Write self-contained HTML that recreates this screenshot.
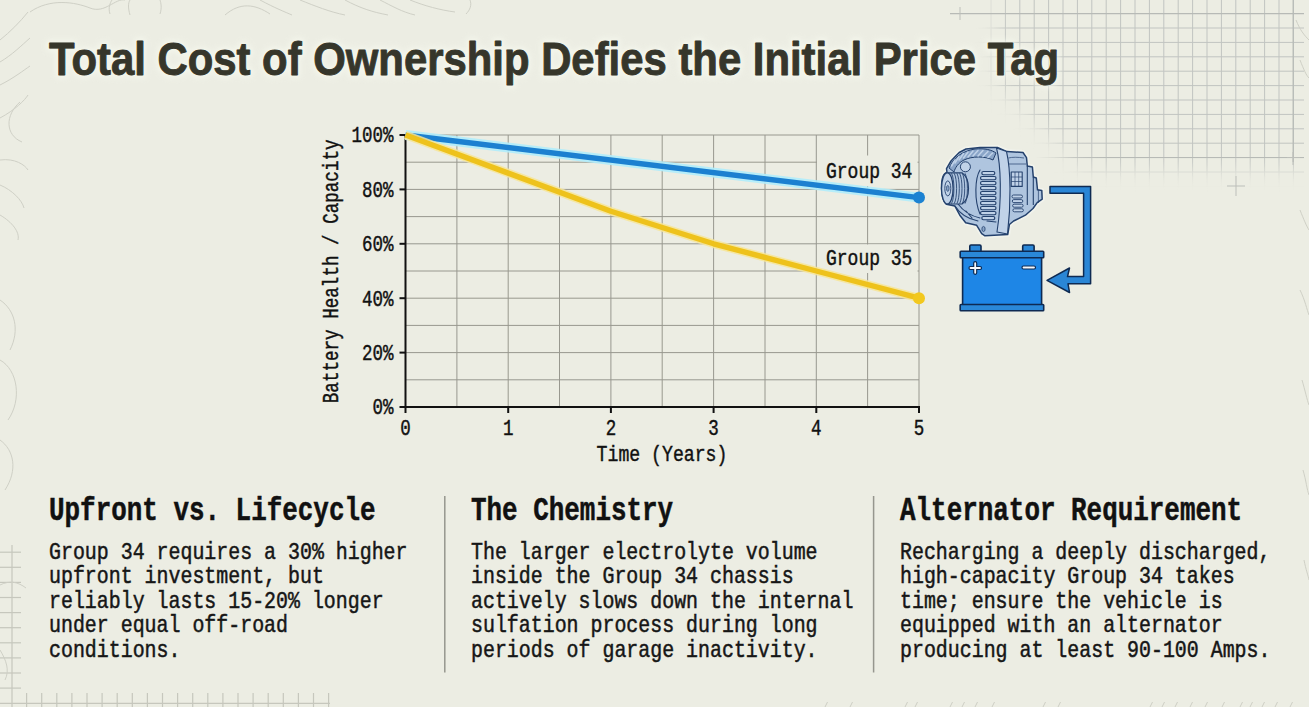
<!DOCTYPE html><html><head><meta charset="utf-8"><style>
html,body{margin:0;padding:0;background:#ecede3;}body{width:1309px;height:707px;overflow:hidden;position:relative;}svg{position:absolute;left:0;top:0;display:block;}.m{font-family:"Liberation Mono",monospace;}.s{font-family:"Liberation Sans",sans-serif;}
</style></head><body>
<svg width="1309" height="707" viewBox="0 0 1309 707">
<rect x="0" y="0" width="1309" height="707" fill="#ecede3"/>
<defs><filter id="gb" x="-20%" y="-20%" width="140%" height="140%"><feGaussianBlur stdDeviation="9"/></filter><linearGradient id="hf" gradientUnits="userSpaceOnUse" x1="1035" y1="0" x2="1110" y2="0"><stop offset="0" stop-color="#b7bab6" stop-opacity="0"/><stop offset="1" stop-color="#b7bab6" stop-opacity="1"/></linearGradient><mask id="gm" maskUnits="userSpaceOnUse" x="900" y="-50" width="450" height="300"><path d="M995,-30 L1340,-30 L1340,170 L1085,170 L995,84 Z" fill="#fff" filter="url(#gb)"/></mask></defs>
<g mask="url(#gm)" stroke="#c1c4c1" stroke-width="1" fill="none">
<line x1="991.0" y1="0" x2="991.0" y2="200"/>
<line x1="1005.4" y1="0" x2="1005.4" y2="200"/>
<line x1="1019.8" y1="0" x2="1019.8" y2="200"/>
<line x1="1034.2" y1="0" x2="1034.2" y2="200"/>
<line x1="1048.6" y1="0" x2="1048.6" y2="200"/>
<line x1="1063.0" y1="0" x2="1063.0" y2="200"/>
<line x1="1077.4" y1="0" x2="1077.4" y2="200"/>
<line x1="1091.8" y1="0" x2="1091.8" y2="200"/>
<line x1="1106.2" y1="0" x2="1106.2" y2="200"/>
<line x1="1120.6" y1="0" x2="1120.6" y2="200"/>
<line x1="1135.0" y1="0" x2="1135.0" y2="200"/>
<line x1="1149.4" y1="0" x2="1149.4" y2="200"/>
<line x1="1163.8" y1="0" x2="1163.8" y2="200"/>
<line x1="1178.2" y1="0" x2="1178.2" y2="200"/>
<line x1="1192.6" y1="0" x2="1192.6" y2="200"/>
<line x1="1207.0" y1="0" x2="1207.0" y2="200"/>
<line x1="1221.4" y1="0" x2="1221.4" y2="200"/>
<line x1="1235.8" y1="0" x2="1235.8" y2="200"/>
<line x1="1250.2" y1="0" x2="1250.2" y2="200"/>
<line x1="1264.6" y1="0" x2="1264.6" y2="200"/>
<line x1="1279.0" y1="0" x2="1279.0" y2="200"/>
<line x1="1293.4" y1="0" x2="1293.4" y2="200"/>
<line x1="975" y1="28.0" x2="1304" y2="28.0"/>
<line x1="975" y1="42.4" x2="1304" y2="42.4"/>
<line x1="975" y1="56.8" x2="1304" y2="56.8"/>
<line x1="975" y1="71.2" x2="1304" y2="71.2"/>
<line x1="975" y1="85.6" x2="1304" y2="85.6"/>
<line x1="975" y1="100.0" x2="1304" y2="100.0"/>
<line x1="975" y1="114.4" x2="1304" y2="114.4"/>
<line x1="975" y1="128.8" x2="1304" y2="128.8"/>
<line x1="975" y1="143.2" x2="1304" y2="143.2"/>
<line x1="975" y1="157.6" x2="1304" y2="157.6"/>
<line x1="975" y1="172.0" x2="1304" y2="172.0"/>
<line x1="975" y1="186.4" x2="1304" y2="186.4"/>
</g>
<g stroke="#b7bab6" stroke-width="1.2" fill="none">
<line x1="950" y1="13.6" x2="1304" y2="13.6"/>
<line x1="1035" y1="157.5" x2="1304" y2="157.5" stroke="url(#hf)"/>
<line x1="1293.2" y1="0" x2="1293.2" y2="162"/>
</g>
<g stroke="#bdbfba" stroke-width="1" fill="none">
<line x1="960" y1="7" x2="960" y2="20"/>
<line x1="1236" y1="176" x2="1236" y2="196"/><line x1="1227" y1="186" x2="1245" y2="186"/>
<line x1="1293" y1="152" x2="1293" y2="165"/><line x1="1287" y1="157.5" x2="1300" y2="157.5"/>
</g>
<g stroke="#c6c7bd" stroke-width="1.2" fill="none">
<line x1="12" y1="545" x2="12" y2="707"/>
<line x1="0" y1="552.2" x2="21" y2="552.2"/>
<line x1="0" y1="567.3" x2="21" y2="567.3"/>
<line x1="0" y1="582.4" x2="21" y2="582.4"/>
<line x1="0" y1="597.5" x2="21" y2="597.5"/>
<line x1="0" y1="612.6" x2="21" y2="612.6"/>
<line x1="0" y1="627.7" x2="21" y2="627.7"/>
<line x1="0" y1="642.8" x2="21" y2="642.8"/>
<line x1="0" y1="657.9" x2="21" y2="657.9"/>
<line x1="0" y1="673.0" x2="21" y2="673.0"/>
<line x1="0" y1="688.1" x2="21" y2="688.1"/>
<line x1="0" y1="703.4" x2="330" y2="703.4"/>
<line x1="26.6" y1="693" x2="26.6" y2="707"/>
<line x1="41.7" y1="693" x2="41.7" y2="707"/>
<line x1="56.8" y1="693" x2="56.8" y2="707"/>
<line x1="71.9" y1="693" x2="71.9" y2="707"/>
<line x1="87.0" y1="693" x2="87.0" y2="707"/>
<line x1="102.1" y1="693" x2="102.1" y2="707"/>
<line x1="117.2" y1="693" x2="117.2" y2="707"/>
<line x1="132.3" y1="693" x2="132.3" y2="707"/>
<line x1="147.4" y1="693" x2="147.4" y2="707"/>
<line x1="162.5" y1="693" x2="162.5" y2="707"/>
<line x1="177.6" y1="693" x2="177.6" y2="707"/>
<line x1="192.7" y1="693" x2="192.7" y2="707"/>
<line x1="207.8" y1="693" x2="207.8" y2="707"/>
<line x1="222.9" y1="693" x2="222.9" y2="707"/>
<line x1="238.0" y1="693" x2="238.0" y2="707"/>
<line x1="253.1" y1="693" x2="253.1" y2="707"/>
<line x1="268.2" y1="693" x2="268.2" y2="707"/>
<line x1="283.3" y1="693" x2="283.3" y2="707"/>
<line x1="298.4" y1="693" x2="298.4" y2="707"/>
<line x1="313.5" y1="693" x2="313.5" y2="707"/>
<line x1="328.6" y1="693" x2="328.6" y2="707"/>
</g>
<g stroke="#cdcec4" stroke-width="1" fill="none">
<line x1="825" y1="707" x2="827.5" y2="702"/>
<line x1="850" y1="707" x2="852.5" y2="702"/>
<line x1="905" y1="707" x2="907.5" y2="702"/>
<line x1="915" y1="707" x2="917.5" y2="702"/>
<line x1="950" y1="707" x2="952.5" y2="702"/>
<line x1="962" y1="707" x2="964.5" y2="702"/>
<line x1="975" y1="707" x2="977.5" y2="702"/>
<line x1="992" y1="707" x2="994.5" y2="702"/>
<line x1="1043" y1="707" x2="1045.5" y2="702"/>
<line x1="1058" y1="707" x2="1060.5" y2="702"/>
<line x1="1150" y1="707" x2="1152.5" y2="702"/>
<line x1="1162" y1="707" x2="1164.5" y2="702"/>
<line x1="1175" y1="707" x2="1177.5" y2="702"/>
<line x1="1190" y1="707" x2="1192.5" y2="702"/>
<line x1="1205" y1="707" x2="1207.5" y2="702"/>
<line x1="1222" y1="707" x2="1224.5" y2="702"/>
<line x1="1240" y1="707" x2="1242.5" y2="702"/>
<line x1="1250" y1="707" x2="1252.5" y2="702"/>
<line x1="1262" y1="707" x2="1264.5" y2="702"/>
<line x1="1275" y1="707" x2="1277.5" y2="702"/>
<line x1="1290" y1="707" x2="1292.5" y2="702"/>
</g>
<g stroke="#cfd0c6" stroke-width="1" fill="none">
<path d="M0,40 C10,32 20,22 28,12"/>
<path d="M0,62 C12,55 22,45 30,38"/>
<path d="M0,85 C14,78 24,70 30,66"/>
<path d="M0,118 C15,110 25,100 28,95"/>
<path d="M20,102 C5,115 5,135 22,142"/>
<path d="M0,160 C15,158 25,165 28,170"/>
<path d="M0,185 C12,190 22,200 24,208"/>
<path d="M0,215 C12,222 20,232 18,240"/>
<path d="M0,300 C15,310 20,330 10,350"/>
<path d="M0,360 C18,370 22,400 8,420"/>
<path d="M0,440 C14,450 18,470 5,490"/>
<path d="M0,585 C10,580 18,582 26,588"/>
<path d="M0,650 C6,660 10,670 5,680"/>
<path d="M30,12 C50,-2 75,2 90,8 C105,14 115,-2 125,0"/>
<path d="M110,14 C108,8 110,3 112,0"/>
<path d="M130,15 C128,8 128,3 130,0"/>
<path d="M160,14 C162,8 161,3 160,0"/>
<path d="M225,15 C240,2 255,4 270,14"/>
<path d="M260,0 C275,8 285,12 292,15"/>
<path d="M300,0 C315,6 330,12 345,15"/>
<path d="M345,0 C360,8 372,12 388,15"/>
<path d="M380,0 C392,6 402,12 415,15"/>
<path d="M410,0 C425,6 440,10 455,12"/>
<path d="M470,0 C472,5 470,10 466,14"/>
<path d="M1296,20 C1300,30 1304,35 1309,40"/>
<path d="M1300,60 C1304,70 1306,75 1309,78"/>
<path d="M1300,210 C1304,220 1306,225 1309,230"/>
<path d="M1300,290 C1305,300 1307,310 1309,315"/>
<path d="M1302,380 C1305,390 1307,400 1309,405"/>
<path d="M1303,470 C1306,480 1307,490 1309,495"/>
<path d="M1304,560 C1306,570 1308,575 1309,580"/>
</g>
<defs><filter id="halo" x="-5%" y="-50%" width="110%" height="200%"><feGaussianBlur stdDeviation="2.5"/></filter></defs>
<text class="s" x="49" y="75" font-size="45.6" font-weight="bold" fill="#f7f9ef" stroke="#f7f9ef" stroke-width="7" stroke-linejoin="round" textLength="1010" lengthAdjust="spacingAndGlyphs" filter="url(#halo)" opacity="0.65">Total Cost of Ownership Defies the Initial Price Tag</text>
<text class="s" x="49" y="75" font-size="45.6" font-weight="bold" fill="#36362b" stroke="#36362b" stroke-width="0.9" stroke-linejoin="round" textLength="1010" lengthAdjust="spacingAndGlyphs">Total Cost of Ownership Defies the Initial Price Tag</text>
<g stroke="#98988f" stroke-width="1" fill="none">
<line x1="456.9" y1="135.0" x2="456.9" y2="407.0"/>
<line x1="508.2" y1="135.0" x2="508.2" y2="407.0"/>
<line x1="559.5" y1="135.0" x2="559.5" y2="407.0"/>
<line x1="610.9" y1="135.0" x2="610.9" y2="407.0"/>
<line x1="662.2" y1="135.0" x2="662.2" y2="407.0"/>
<line x1="713.6" y1="135.0" x2="713.6" y2="407.0"/>
<line x1="765.0" y1="135.0" x2="765.0" y2="407.0"/>
<line x1="816.3" y1="135.0" x2="816.3" y2="407.0"/>
<line x1="867.6" y1="135.0" x2="867.6" y2="407.0"/>
<line x1="919.0" y1="135.0" x2="919.0" y2="407.0"/>
<line x1="405.5" y1="379.8" x2="919.0" y2="379.8"/>
<line x1="405.5" y1="352.6" x2="919.0" y2="352.6"/>
<line x1="405.5" y1="325.4" x2="919.0" y2="325.4"/>
<line x1="405.5" y1="298.2" x2="919.0" y2="298.2"/>
<line x1="405.5" y1="271.0" x2="919.0" y2="271.0"/>
<line x1="405.5" y1="243.8" x2="919.0" y2="243.8"/>
<line x1="405.5" y1="216.6" x2="919.0" y2="216.6"/>
<line x1="405.5" y1="189.4" x2="919.0" y2="189.4"/>
<line x1="405.5" y1="162.2" x2="919.0" y2="162.2"/>
<line x1="405.5" y1="135.0" x2="919.0" y2="135.0"/>
</g>
<rect x="817" y="155.5" width="100.5" height="30.5" fill="#ecede3"/>
<rect x="817" y="244.5" width="100.5" height="28.5" fill="#ecede3"/>
<g stroke="#111" stroke-width="2" fill="none">
<line x1="405.5" y1="134.0" x2="405.5" y2="408.0"/>
<line x1="404.5" y1="407.0" x2="920.0" y2="407.0"/>
<line x1="399.5" y1="407.0" x2="405.5" y2="407.0"/>
<line x1="405.5" y1="407.0" x2="405.5" y2="413.0"/>
<line x1="399.5" y1="352.6" x2="405.5" y2="352.6"/>
<line x1="508.2" y1="407.0" x2="508.2" y2="413.0"/>
<line x1="399.5" y1="298.2" x2="405.5" y2="298.2"/>
<line x1="610.9" y1="407.0" x2="610.9" y2="413.0"/>
<line x1="399.5" y1="243.8" x2="405.5" y2="243.8"/>
<line x1="713.6" y1="407.0" x2="713.6" y2="413.0"/>
<line x1="399.5" y1="189.4" x2="405.5" y2="189.4"/>
<line x1="816.3" y1="407.0" x2="816.3" y2="413.0"/>
<line x1="399.5" y1="135.0" x2="405.5" y2="135.0"/>
<line x1="919.0" y1="407.0" x2="919.0" y2="413.0"/>
</g>
<g class="m">
<text x="372.50" y="414.30" font-size="22.5" font-weight="normal" fill="#111" textLength="21.00" lengthAdjust="spacingAndGlyphs" stroke="#111" stroke-width="0.45" >0%</text>
<text x="362.00" y="359.90" font-size="22.5" font-weight="normal" fill="#111" textLength="31.50" lengthAdjust="spacingAndGlyphs" stroke="#111" stroke-width="0.45" >20%</text>
<text x="362.00" y="305.50" font-size="22.5" font-weight="normal" fill="#111" textLength="31.50" lengthAdjust="spacingAndGlyphs" stroke="#111" stroke-width="0.45" >40%</text>
<text x="362.00" y="251.10" font-size="22.5" font-weight="normal" fill="#111" textLength="31.50" lengthAdjust="spacingAndGlyphs" stroke="#111" stroke-width="0.45" >60%</text>
<text x="362.00" y="196.70" font-size="22.5" font-weight="normal" fill="#111" textLength="31.50" lengthAdjust="spacingAndGlyphs" stroke="#111" stroke-width="0.45" >80%</text>
<text x="351.50" y="142.30" font-size="22.5" font-weight="normal" fill="#111" textLength="42.00" lengthAdjust="spacingAndGlyphs" stroke="#111" stroke-width="0.45" >100%</text>
<text x="400.25" y="435.30" font-size="22.5" font-weight="normal" fill="#111" textLength="10.50" lengthAdjust="spacingAndGlyphs" stroke="#111" stroke-width="0.45" >0</text>
<text x="502.95" y="435.30" font-size="22.5" font-weight="normal" fill="#111" textLength="10.50" lengthAdjust="spacingAndGlyphs" stroke="#111" stroke-width="0.45" >1</text>
<text x="605.65" y="435.30" font-size="22.5" font-weight="normal" fill="#111" textLength="10.50" lengthAdjust="spacingAndGlyphs" stroke="#111" stroke-width="0.45" >2</text>
<text x="708.35" y="435.30" font-size="22.5" font-weight="normal" fill="#111" textLength="10.50" lengthAdjust="spacingAndGlyphs" stroke="#111" stroke-width="0.45" >3</text>
<text x="811.05" y="435.30" font-size="22.5" font-weight="normal" fill="#111" textLength="10.50" lengthAdjust="spacingAndGlyphs" stroke="#111" stroke-width="0.45" >4</text>
<text x="913.75" y="435.30" font-size="22.5" font-weight="normal" fill="#111" textLength="10.50" lengthAdjust="spacingAndGlyphs" stroke="#111" stroke-width="0.45" >5</text>
<text x="596.60" y="461.20" font-size="22.5" font-weight="normal" fill="#111" textLength="130.80" lengthAdjust="spacingAndGlyphs" stroke="#111" stroke-width="0.45" >Time (Years)</text>
<g transform="translate(338.0,271.3) rotate(-90)">
<text x="-131.88" y="0.00" font-size="22.3" font-weight="normal" fill="#111" textLength="263.75" lengthAdjust="spacingAndGlyphs" stroke="#111" stroke-width="0.45" >Battery Health / Capacity</text>
</g>
<text x="826.00" y="177.90" font-size="21.8" font-weight="normal" fill="#111" textLength="86.40" lengthAdjust="spacingAndGlyphs" stroke="#111" stroke-width="0.45" >Group 34</text>
<text x="826.00" y="264.80" font-size="21.8" font-weight="normal" fill="#111" textLength="86.40" lengthAdjust="spacingAndGlyphs" stroke="#111" stroke-width="0.45" >Group 35</text>
</g>
<polyline points="405.5,135.0 919.0,197.6" fill="none" stroke="#b0ecfb" stroke-width="10" stroke-linecap="butt" opacity="0.9"/>
<polyline points="405.5,135.0 919.0,197.6" fill="none" stroke="#1c80d0" stroke-width="5.4" stroke-linecap="butt"/>
<polyline points="405.5,135.0 508.2,173.1 610.9,211.2 713.6,243.8 816.3,271.0 919.0,298.2" fill="none" stroke="#f7e596" stroke-width="8.5" stroke-linejoin="round" stroke-linecap="butt" opacity="0.85"/>
<polyline points="405.5,135.0 508.2,173.1 610.9,211.2 713.6,243.8 816.3,271.0 919.0,298.2" fill="none" stroke="#eec21c" stroke-width="5.4" stroke-linejoin="round" stroke-linecap="butt"/>
<circle cx="919.0" cy="197.6" r="6" fill="#1c82d2"/>
<circle cx="919.0" cy="298.2" r="6" fill="#f2c81e"/>
<g opacity="0.55"><path d="M941.5,188 C941.5,178 944,173 947,172.5 L946.5,168.6 L951,161 L955,156.7 L959.2,152.5 L966,149 L980,147.5 L997.4,147.4 L1007,151.6 L1023,152.5 L1026.5,157.6 L1027.3,166 L1032.4,167 L1033.3,177 L1036.3,178 L1037.5,189.8 L1041.8,190.5 L1042.2,199.2 L1037.2,202.6 L1033,208.5 L1025.4,215.2 L1013.6,221 L1009.4,224.5 L1007.7,234.5 L985,235.8 L981.7,233.7 L976.7,225.3 L965.7,222.8 L959.8,215.2 L954.8,206 L946.4,204.3 C943,201 941.5,195 941.5,188 Z" fill="none" stroke="#f6f8f4" stroke-width="5" stroke-linejoin="round"/></g>
<path d="M941.5,188 C941.5,178 944,173 947,172.5 L946.5,168.6 L951,161 L955,156.7 L959.2,152.5 L966,149 L980,147.5 L997.4,147.4 L1007,151.6 L1023,152.5 L1026.5,157.6 L1027.3,166 L1032.4,167 L1033.3,177 L1036.3,178 L1037.5,189.8 L1041.8,190.5 L1042.2,199.2 L1037.2,202.6 L1033,208.5 L1025.4,215.2 L1013.6,221 L1009.4,224.5 L1007.7,234.5 L985,235.8 L981.7,233.7 L976.7,225.3 L965.7,222.8 L959.8,215.2 L954.8,206 L946.4,204.3 C943,201 941.5,195 941.5,188 Z" fill="#afc5df" stroke="#24416d" stroke-width="1.5" stroke-linejoin="round"/>
<path d="M996.5,148 C1001,165 1002,200 997,232 L1007.5,234 C1011,205 1011,170 1006.5,151.5 Z" fill="#c0d2e8" stroke="#24416d" stroke-width="1.1" stroke-linejoin="round"/>
<g fill="#afc5df" stroke="#24416d" stroke-width="1.1" stroke-linejoin="round">
<path d="M1027.3,166 L1027.3,205 M1033.3,177 L1033.3,205"/>
<rect x="1011.2" y="172" width="11" height="14.4" fill="#c0d2e8"/>
</g>
<g stroke="#24416d" stroke-width="0.7" fill="none">
<path d="M1011.2,177 H1022.2 M1011.2,181.5 H1022.2 M1015,172 V186.4 M1018.7,172 V186.4"/>
<path d="M1008.5,158 C1012,157 1018,157 1024,158 M1009,164 L1026,164"/>
<path d="M1038.4,189.8 L1038.4,203"/>
</g>
<g fill="#c0d2e8" stroke="#24416d" stroke-width="0.9">
<rect x="1012.0" y="195.0" width="10.5" height="3" rx="1.5"/>
<rect x="1012.3" y="199.6" width="10.5" height="3" rx="1.5"/>
<rect x="1012.6" y="204.2" width="10.5" height="3" rx="1.5"/>
<rect x="1012.9" y="208.8" width="10.5" height="3" rx="1.5"/>
</g>
<g fill="#c0d2e8" stroke="#24416d" stroke-width="1.15">
<rect x="981.8" y="171.5" width="13" height="3.2" rx="1.6"/>
<rect x="980.5" y="176.5" width="15.5" height="3.2" rx="1.6"/>
<rect x="980.5" y="181.5" width="15.5" height="3.2" rx="1.6"/>
<rect x="980.5" y="186.5" width="15.5" height="3.2" rx="1.6"/>
<rect x="980.5" y="191.5" width="15.5" height="3.2" rx="1.6"/>
<rect x="980.5" y="196.5" width="15.5" height="3.2" rx="1.6"/>
<rect x="980.5" y="201.5" width="15.5" height="3.2" rx="1.6"/>
<rect x="980.5" y="206.5" width="15.5" height="3.2" rx="1.6"/>
<rect x="980.5" y="211.5" width="15.5" height="3.2" rx="1.6"/>
<rect x="981.8" y="216.5" width="13" height="3.2" rx="1.6"/>
</g>
<path d="M949,168 C953,158 962,151 975,149 C985,148 992,150 996,153 L993,160 C985,156 972,156 964,160 C958,163 955,168 954,172 Z" fill="#8aa5c8" stroke="#24416d" stroke-width="1"/>
<g stroke="#c0d2e8" stroke-width="1.5" fill="none" stroke-linecap="round">
<path d="M951.5,166 L955,160"/>
<path d="M955,163 L959,156.5"/>
<path d="M959,160 L963.5,153.5"/>
<path d="M963.5,158 L968,152"/>
<path d="M968,157 L973,151"/>
<path d="M973,156 L978,150.5"/>
<path d="M978,156 L983,150.5"/>
<path d="M983,156.5 L988,151.5"/>
<path d="M988,157.5 L992.5,153"/>
</g>
<g stroke="#24416d" stroke-width="1.1" fill="none" stroke-linecap="round">
<path d="M955,206 C960,214 968,219 978,221 M958,204 C964,212 971,216 980,218 M966,211 L972,218 M987,221 L996,222"/>
<path d="M980,170 C975,178 974,200 980,214"/>
</g>
<circle cx="965.4" cy="166.8" r="5" fill="#c0d2e8" stroke="#24416d" stroke-width="1"/>
<ellipse cx="983.5" cy="229" rx="1.6" ry="2.6" fill="#8aa5c8" stroke="#24416d" stroke-width="0.8"/>
<path d="M947,172.8 L962,172.8 C966.5,176 968.5,182 968.5,188.5 C968.5,195 966.5,201 962,204 L947,204 Z" fill="#afc5df" stroke="#24416d" stroke-width="1.2" stroke-linejoin="round"/>
<g stroke="#24416d" stroke-width="0.85" fill="none">
<path d="M951.5,173.3 C954.7,179 954.7,198 951.5,203.6"/>
<path d="M954.2,173.3 C957.4000000000001,179 957.4000000000001,198 954.2,203.6"/>
<path d="M956.9,173.3 C960.1,179 960.1,198 956.9,203.6"/>
<path d="M959.6,173.3 C962.8000000000001,179 962.8000000000001,198 959.6,203.6"/>
<path d="M962.3,173.3 C965.5,179 965.5,198 962.3,203.6"/>
<path d="M965,173.3 C968.2,179 968.2,198 965,203.6"/>
</g>
<ellipse cx="947.3" cy="188.4" rx="5.8" ry="15.6" fill="#c0d2e8" stroke="#24416d" stroke-width="1.3"/>
<ellipse cx="947.8" cy="188.4" rx="3" ry="7.5" fill="none" stroke="#24416d" stroke-width="0.9"/>
<ellipse cx="947.8" cy="188.4" rx="1.3" ry="3" fill="#8aa5c8" stroke="#24416d" stroke-width="0.7"/>
<g stroke="#0e2a52" stroke-width="1.6" stroke-linejoin="round">
<rect x="969.8" y="245" width="11.2" height="7" rx="1.2" fill="#2a88d8"/>
<rect x="1022.7" y="245" width="11.4" height="7" rx="1.2" fill="#2a88d8"/>
<rect x="962.6" y="257" width="79" height="48" fill="#1e86e6"/>
<rect x="960.2" y="251.2" width="83.5" height="6.6" rx="0.8" fill="#2a88d8"/>
<rect x="960.2" y="304.5" width="83.5" height="6.2" rx="0.8" fill="#2a88d8"/>
</g>
<g stroke="#0e2a52" stroke-width="4.2" stroke-linecap="round"><path d="M970.5,268 H980 M975.2,263.2 V272.8 M1023.5,267.5 H1034"/></g>
<g stroke="#f4f8fc" stroke-width="1.8" stroke-linecap="round"><path d="M970.5,268 H980 M975.2,263.2 V272.8 M1023.5,267.5 H1034"/></g>
<path d="M1050,186.6 L1090.6,186.6 L1090.6,283.7 L1068,283.7 L1069.5,292.5 L1047,280.3 L1069.5,268 L1067.5,276.6 L1083.6,276.6 L1083.6,193.3 L1050,193.3 Z" fill="#2a86d6" stroke="#0e2a52" stroke-width="1.5" stroke-linejoin="round"/>
<g class="m">
<text x="49.00" y="520.40" font-size="32.8" font-weight="bold" fill="#111" textLength="326.55" lengthAdjust="spacingAndGlyphs" stroke="#111" stroke-width="0.5" >Upfront vs. Lifecycle</text>
<text x="49.00" y="558.60" font-size="24.2" font-weight="normal" fill="#161616" textLength="358.50" lengthAdjust="spacingAndGlyphs" stroke="#161616" stroke-width="0.5" >Group 34 requires a 30% higher</text>
<text x="49.00" y="583.10" font-size="24.2" font-weight="normal" fill="#161616" textLength="274.85" lengthAdjust="spacingAndGlyphs" stroke="#161616" stroke-width="0.5" >upfront investment, but</text>
<text x="49.00" y="607.60" font-size="24.2" font-weight="normal" fill="#161616" textLength="334.60" lengthAdjust="spacingAndGlyphs" stroke="#161616" stroke-width="0.5" >reliably lasts 15-20% longer</text>
<text x="49.00" y="632.10" font-size="24.2" font-weight="normal" fill="#161616" textLength="239.00" lengthAdjust="spacingAndGlyphs" stroke="#161616" stroke-width="0.5" >under equal off-road</text>
<text x="49.00" y="656.60" font-size="24.2" font-weight="normal" fill="#161616" textLength="131.45" lengthAdjust="spacingAndGlyphs" stroke="#161616" stroke-width="0.5" >conditions.</text>
<text x="471.00" y="520.40" font-size="32.8" font-weight="bold" fill="#111" textLength="202.15" lengthAdjust="spacingAndGlyphs" stroke="#111" stroke-width="0.5" >The Chemistry</text>
<text x="471.00" y="558.60" font-size="24.2" font-weight="normal" fill="#161616" textLength="346.55" lengthAdjust="spacingAndGlyphs" stroke="#161616" stroke-width="0.5" >The larger electrolyte volume</text>
<text x="471.00" y="583.10" font-size="24.2" font-weight="normal" fill="#161616" textLength="322.65" lengthAdjust="spacingAndGlyphs" stroke="#161616" stroke-width="0.5" >inside the Group 34 chassis</text>
<text x="471.00" y="607.60" font-size="24.2" font-weight="normal" fill="#161616" textLength="382.40" lengthAdjust="spacingAndGlyphs" stroke="#161616" stroke-width="0.5" >actively slows down the internal</text>
<text x="471.00" y="632.10" font-size="24.2" font-weight="normal" fill="#161616" textLength="346.55" lengthAdjust="spacingAndGlyphs" stroke="#161616" stroke-width="0.5" >sulfation process during long</text>
<text x="471.00" y="656.60" font-size="24.2" font-weight="normal" fill="#161616" textLength="346.55" lengthAdjust="spacingAndGlyphs" stroke="#161616" stroke-width="0.5" >periods of garage inactivity.</text>
<text x="900.00" y="520.40" font-size="32.8" font-weight="bold" fill="#111" textLength="342.10" lengthAdjust="spacingAndGlyphs" stroke="#111" stroke-width="0.5" >Alternator Requirement</text>
<text x="900.00" y="558.60" font-size="24.2" font-weight="normal" fill="#161616" textLength="370.45" lengthAdjust="spacingAndGlyphs" stroke="#161616" stroke-width="0.5" >Recharging a deeply discharged,</text>
<text x="900.00" y="583.10" font-size="24.2" font-weight="normal" fill="#161616" textLength="334.60" lengthAdjust="spacingAndGlyphs" stroke="#161616" stroke-width="0.5" >high-capacity Group 34 takes</text>
<text x="900.00" y="607.60" font-size="24.2" font-weight="normal" fill="#161616" textLength="322.65" lengthAdjust="spacingAndGlyphs" stroke="#161616" stroke-width="0.5" >time; ensure the vehicle is</text>
<text x="900.00" y="632.10" font-size="24.2" font-weight="normal" fill="#161616" textLength="322.65" lengthAdjust="spacingAndGlyphs" stroke="#161616" stroke-width="0.5" >equipped with an alternator</text>
<text x="900.00" y="656.60" font-size="24.2" font-weight="normal" fill="#161616" textLength="370.45" lengthAdjust="spacingAndGlyphs" stroke="#161616" stroke-width="0.5" >producing at least 90-100 Amps.</text>
</g>
<g stroke="#96968e" stroke-width="1.5">
<line x1="444.8" y1="496" x2="444.8" y2="672.5"/>
<line x1="873.6" y1="496" x2="873.6" y2="672.5"/>
</g>
</svg></body></html>
